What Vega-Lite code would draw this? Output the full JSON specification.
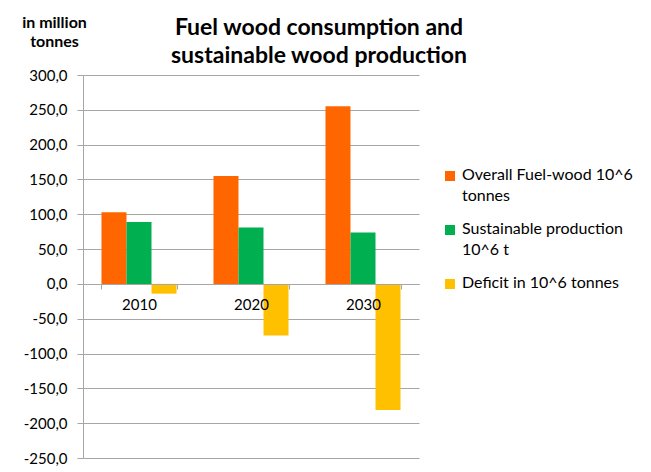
{
  "$schema": "https://vega.github.io/schema/vega-lite/v6.json",
  "autosize": "none",
  "width": 336,
  "height": 383,
  "padding": {"left": 83, "top": 75, "right": 232, "bottom": 14},
  "background": "white",
  "config": {
    "font": "Lato",
    "view": {"stroke": null},
    "locale": {"number": {"decimal": ",", "thousands": ".", "grouping": [3], "currency": ["", " €"], "minus": "-"}},
    "axis": {"labelFont": "Lato", "labelFontSize": 15, "labelColor": "#000000", "domainColor": "#a6a6a6", "tickColor": "#a6a6a6", "gridColor": "#a6a6a6"}
  },
  "title": {
    "text": ["Fuel wood consumption and", "sustainable wood production"],
    "fontSize": 23,
    "fontWeight": "bold",
    "font": "Lato",
    "color": "#000000",
    "anchor": "middle",
    "dx": 68,
    "dy": 66,
    "lineHeight": 28,
    "offset": 12
  },
  "data": {
    "values": [
      {"year": "2010", "series": "Overall Fuel-wood 10^6 tonnes", "value": 103},
      {"year": "2010", "series": "Sustainable production 10^6 t", "value": 89},
      {"year": "2010", "series": "Deficit in 10^6 tonnes", "value": -14},
      {"year": "2020", "series": "Overall Fuel-wood 10^6 tonnes", "value": 155},
      {"year": "2020", "series": "Sustainable production 10^6 t", "value": 81},
      {"year": "2020", "series": "Deficit in 10^6 tonnes", "value": -74},
      {"year": "2030", "series": "Overall Fuel-wood 10^6 tonnes", "value": 255},
      {"year": "2030", "series": "Sustainable production 10^6 t", "value": 74},
      {"year": "2030", "series": "Deficit in 10^6 tonnes", "value": -181}
    ]
  },
  "mark": {"type": "bar"},
  "encoding": {
    "x": {
      "field": "year",
      "type": "nominal",
      "scale": {"paddingInner": 0.33, "paddingOuter": 0.165},
      "axis": {
        "title": null,
        "orient": "bottom",
        "offset": -174,
        "labelAngle": 0,
        "tickBand": "extent",
        "tickSize": 5,
        "labelPadding": 8,
        "grid": false,
        "zindex": 1
      }
    },
    "xOffset": {
      "field": "series",
      "type": "nominal",
      "sort": ["Overall Fuel-wood 10^6 tonnes", "Sustainable production 10^6 t", "Deficit in 10^6 tonnes"]
    },
    "y": {
      "field": "value",
      "type": "quantitative",
      "scale": {"domain": [-250, 300], "nice": false, "zero": false},
      "axis": {
        "values": [-250, -200, -150, -100, -50, 0, 50, 100, 150, 200, 250, 300],
        "format": ".1f",
        "tickSize": 6,
        "labelPadding": 10,
        "grid": true,
        "title": ["in million", "tonnes"],
        "titleAngle": 0,
        "titleX": -29,
        "titleY": -61,
        "titleAlign": "center",
        "titleBaseline": "top",
        "titleFontSize": 16,
        "titleFontWeight": "bold",
        "titleLineHeight": 19,
        "titleColor": "#000000"
      }
    },
    "color": {
      "field": "series",
      "type": "nominal",
      "scale": {
        "domain": ["Overall Fuel-wood 10^6 tonnes", "Sustainable production 10^6 t", "Deficit in 10^6 tonnes"],
        "range": ["#FF6600", "#00B050", "#FFC000"]
      },
      "legend": {
        "title": null,
        "orient": "none",
        "legendX": 359,
        "legendY": 93,
        "symbolType": "square",
        "symbolSize": 100,
        "symbolStrokeWidth": 0,
        "symbolOpacity": 1,
        "labelFontSize": 16,
        "labelFont": "Lato",
        "labelColor": "#000000",
        "labelLimit": 300,
        "labelOffset": 4,
        "labelBaseline": "top",
        "rowPadding": 17,
        "labelExpr": "datum.label == 'Overall Fuel-wood 10^6 tonnes' ? ['Overall Fuel-wood 10^6', 'tonnes'] : datum.label == 'Sustainable production 10^6 t' ? ['Sustainable production', '10^6 t'] : datum.label",
        "encode": {"labels": {"update": {"dy": {"value": -9}, "lineHeight": {"value": 21}}}}
      }
    }
  }
}
